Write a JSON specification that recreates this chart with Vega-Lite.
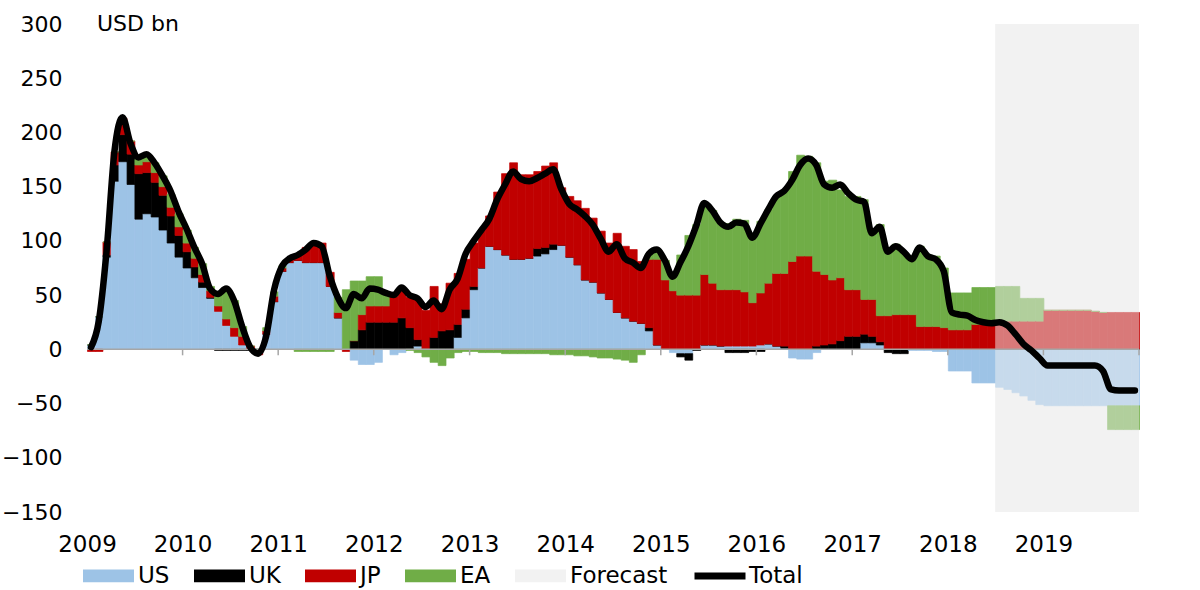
{
  "$schema": "https://vega.github.io/schema/vega-lite/v6.json",
  "width": 1052,
  "height": 488,
  "autosize": "none",
  "padding": {"left": 87, "top": 24, "right": 61, "bottom": 78},
  "background": "white",
  "config": {
    "view": {"stroke": null},
    "font": "DejaVu Sans",
    "axis": {"labelFont": "DejaVu Sans", "labelColor": "#000000", "labelFontSize": 22, "grid": false, "domain": false, "ticks": false, "title": null},
    "legend": {"labelFont": "DejaVu Sans", "labelColor": "#000000", "labelFontSize": 23}
  },
  "resolve": {"scale": {"stroke": "independent"}, "legend": {"stroke": "independent"}},
  "datasets": {
    "order": [{"s": "US", "o": 1}, {"s": "UK", "o": 2}, {"s": "JP", "o": 3}, {"s": "EA", "o": 4}],
    "one": [{"k": 1}],
    "yrs": [{"y": "2010-01"}, {"y": "2011-01"}, {"y": "2012-01"}, {"y": "2013-01"}, {"y": "2014-01"}, {"y": "2015-01"}, {"y": "2016-01"}, {"y": "2017-01"}, {"y": "2018-01"}, {"y": "2019-01"}, {"y": "2020-01"}],
    "m": [
    {"d":"2009-01","US":4,"UK":0,"JP":-2,"EA":0,"T":2},
    {"d":"2009-02","US":30,"UK":0,"JP":-2,"EA":0,"T":26},
    {"d":"2009-03","US":85,"UK":2,"JP":12,"EA":0,"T":90},
    {"d":"2009-04","US":155,"UK":15,"JP":12,"EA":0,"T":183},
    {"d":"2009-05","US":173,"UK":25,"JP":15,"EA":0,"T":214},
    {"d":"2009-06","US":152,"UK":28,"JP":12,"EA":0,"T":190},
    {"d":"2009-07","US":120,"UK":42,"JP":8,"EA":5,"T":177},
    {"d":"2009-08","US":125,"UK":38,"JP":10,"EA":7,"T":180},
    {"d":"2009-09","US":122,"UK":32,"JP":9,"EA":9,"T":172},
    {"d":"2009-10","US":110,"UK":32,"JP":8,"EA":10,"T":160},
    {"d":"2009-11","US":98,"UK":25,"JP":8,"EA":12,"T":146},
    {"d":"2009-12","US":85,"UK":20,"JP":8,"EA":12,"T":127},
    {"d":"2010-01","US":75,"UK":15,"JP":8,"EA":12,"T":111},
    {"d":"2010-02","US":66,"UK":10,"JP":8,"EA":10,"T":94},
    {"d":"2010-03","US":57,"UK":5,"JP":7,"EA":10,"T":79},
    {"d":"2010-04","US":47,"UK":1,"JP":6,"EA":4,"T":56},
    {"d":"2010-05","US":35,"UK":-1,"JP":5,"EA":12,"T":51},
    {"d":"2010-06","US":22,"UK":-1,"JP":6,"EA":28,"T":56},
    {"d":"2010-07","US":12,"UK":-1,"JP":8,"EA":25,"T":45},
    {"d":"2010-08","US":4,"UK":-1,"JP":8,"EA":9,"T":21},
    {"d":"2010-09","US":0,"UK":-1,"JP":3,"EA":0,"T":2},
    {"d":"2010-10","US":0,"UK":-1,"JP":-4,"EA":0,"T":-4},
    {"d":"2010-11","US":14,"UK":0,"JP":3,"EA":3,"T":12},
    {"d":"2010-12","US":44,"UK":0,"JP":5,"EA":4,"T":55},
    {"d":"2011-01","US":72,"UK":0,"JP":3,"EA":2,"T":77},
    {"d":"2011-02","US":80,"UK":0,"JP":3,"EA":1,"T":84},
    {"d":"2011-03","US":82,"UK":0,"JP":6,"EA":-2,"T":87},
    {"d":"2011-04","US":80,"UK":0,"JP":14,"EA":-2,"T":92},
    {"d":"2011-05","US":80,"UK":0,"JP":18,"EA":-2,"T":98},
    {"d":"2011-06","US":80,"UK":0,"JP":18,"EA":-2,"T":95},
    {"d":"2011-07","US":58,"UK":0,"JP":13,"EA":-2,"T":68},
    {"d":"2011-08","US":29,"UK":0,"JP":5,"EA":14,"T":48},
    {"d":"2011-09","US":0,"UK":0,"JP":-2,"EA":55,"T":38},
    {"d":"2011-10","US":-10,"UK":8,"JP":0,"EA":55,"T":51},
    {"d":"2011-11","US":-14,"UK":18,"JP":14,"EA":31,"T":47},
    {"d":"2011-12","US":-14,"UK":25,"JP":15,"EA":27,"T":56},
    {"d":"2012-01","US":-12,"UK":25,"JP":15,"EA":27,"T":55},
    {"d":"2012-02","US":0,"UK":25,"JP":15,"EA":13,"T":52},
    {"d":"2012-03","US":-5,"UK":25,"JP":24,"EA":3,"T":50},
    {"d":"2012-04","US":-3,"UK":29,"JP":26,"EA":0,"T":57},
    {"d":"2012-05","US":0,"UK":20,"JP":28,"EA":-1,"T":50},
    {"d":"2012-06","US":3,"UK":6,"JP":37,"EA":-3,"T":47},
    {"d":"2012-07","US":0,"UK":0,"JP":36,"EA":-7,"T":39},
    {"d":"2012-08","US":0,"UK":11,"JP":47,"EA":-12,"T":45},
    {"d":"2012-09","US":0,"UK":17,"JP":25,"EA":-15,"T":37},
    {"d":"2012-10","US":0,"UK":18,"JP":43,"EA":-8,"T":55},
    {"d":"2012-11","US":11,"UK":12,"JP":47,"EA":-3,"T":65},
    {"d":"2012-12","US":29,"UK":8,"JP":46,"EA":-2,"T":88},
    {"d":"2013-01","US":55,"UK":3,"JP":40,"EA":-2,"T":100},
    {"d":"2013-02","US":75,"UK":0,"JP":35,"EA":-3,"T":110},
    {"d":"2013-03","US":95,"UK":0,"JP":28,"EA":-3,"T":120},
    {"d":"2013-04","US":92,"UK":0,"JP":53,"EA":-3,"T":138},
    {"d":"2013-05","US":87,"UK":0,"JP":75,"EA":-4,"T":152},
    {"d":"2013-06","US":83,"UK":0,"JP":89,"EA":-4,"T":164},
    {"d":"2013-07","US":83,"UK":0,"JP":78,"EA":-4,"T":157},
    {"d":"2013-08","US":84,"UK":0,"JP":77,"EA":-4,"T":155},
    {"d":"2013-09","US":86,"UK":7,"JP":71,"EA":-4,"T":158},
    {"d":"2013-10","US":88,"UK":6,"JP":75,"EA":-4,"T":162},
    {"d":"2013-11","US":92,"UK":5,"JP":75,"EA":-5,"T":166},
    {"d":"2013-12","US":96,"UK":0,"JP":53,"EA":-5,"T":148},
    {"d":"2014-01","US":85,"UK":0,"JP":56,"EA":-5,"T":134},
    {"d":"2014-02","US":78,"UK":0,"JP":59,"EA":-6,"T":129},
    {"d":"2014-03","US":64,"UK":0,"JP":66,"EA":-6,"T":123},
    {"d":"2014-04","US":62,"UK":0,"JP":59,"EA":-7,"T":115},
    {"d":"2014-05","US":52,"UK":0,"JP":57,"EA":-8,"T":102},
    {"d":"2014-06","US":46,"UK":0,"JP":52,"EA":-8,"T":90},
    {"d":"2014-07","US":34,"UK":0,"JP":73,"EA":-9,"T":97},
    {"d":"2014-08","US":29,"UK":0,"JP":66,"EA":-10,"T":84},
    {"d":"2014-09","US":26,"UK":0,"JP":66,"EA":-12,"T":80},
    {"d":"2014-10","US":24,"UK":0,"JP":57,"EA":-5,"T":75},
    {"d":"2014-11","US":17,"UK":3,"JP":63,"EA":5,"T":88},
    {"d":"2014-12","US":4,"UK":0,"JP":79,"EA":9,"T":92},
    {"d":"2015-01","US":0,"UK":0,"JP":64,"EA":18,"T":82},
    {"d":"2015-02","US":-3,"UK":0,"JP":54,"EA":16,"T":67},
    {"d":"2015-03","US":-4,"UK":-3,"JP":50,"EA":37,"T":80},
    {"d":"2015-04","US":-4,"UK":-6,"JP":50,"EA":55,"T":95},
    {"d":"2015-05","US":0,"UK":-1,"JP":50,"EA":65,"T":114},
    {"d":"2015-06","US":4,"UK":0,"JP":65,"EA":66,"T":135},
    {"d":"2015-07","US":4,"UK":0,"JP":57,"EA":67,"T":128},
    {"d":"2015-08","US":3,"UK":0,"JP":52,"EA":62,"T":117},
    {"d":"2015-09","US":3,"UK":-3,"JP":52,"EA":61,"T":113},
    {"d":"2015-10","US":3,"UK":-3,"JP":52,"EA":65,"T":117},
    {"d":"2015-11","US":3,"UK":-3,"JP":50,"EA":66,"T":116},
    {"d":"2015-12","US":3,"UK":-2,"JP":40,"EA":62,"T":103},
    {"d":"2016-01","US":4,"UK":-2,"JP":48,"EA":66,"T":116},
    {"d":"2016-02","US":5,"UK":0,"JP":56,"EA":68,"T":129},
    {"d":"2016-03","US":3,"UK":0,"JP":67,"EA":71,"T":141},
    {"d":"2016-04","US":1,"UK":2,"JP":67,"EA":76,"T":146},
    {"d":"2016-05","US":-8,"UK":0,"JP":81,"EA":83,"T":156},
    {"d":"2016-06","US":-9,"UK":0,"JP":86,"EA":93,"T":170},
    {"d":"2016-07","US":-9,"UK":0,"JP":86,"EA":92,"T":176},
    {"d":"2016-08","US":-3,"UK":3,"JP":69,"EA":100,"T":170},
    {"d":"2016-09","US":0,"UK":4,"JP":65,"EA":86,"T":152},
    {"d":"2016-10","US":0,"UK":5,"JP":59,"EA":92,"T":149},
    {"d":"2016-11","US":0,"UK":8,"JP":58,"EA":81,"T":152},
    {"d":"2016-12","US":0,"UK":12,"JP":43,"EA":86,"T":144},
    {"d":"2017-01","US":0,"UK":12,"JP":43,"EA":86,"T":138},
    {"d":"2017-02","US":6,"UK":8,"JP":32,"EA":92,"T":136},
    {"d":"2017-03","US":6,"UK":6,"JP":34,"EA":63,"T":107},
    {"d":"2017-04","US":4,"UK":3,"JP":24,"EA":84,"T":113},
    {"d":"2017-05","US":0,"UK":-3,"JP":31,"EA":61,"T":90},
    {"d":"2017-06","US":0,"UK":-4,"JP":32,"EA":65,"T":95},
    {"d":"2017-07","US":0,"UK":-4,"JP":32,"EA":57,"T":90},
    {"d":"2017-08","US":-1,"UK":0,"JP":32,"EA":51,"T":83},
    {"d":"2017-09","US":-1,"UK":0,"JP":21,"EA":74,"T":94},
    {"d":"2017-10","US":-1,"UK":0,"JP":21,"EA":66,"T":86},
    {"d":"2017-11","US":-2,"UK":0,"JP":21,"EA":65,"T":83},
    {"d":"2017-12","US":-2,"UK":0,"JP":20,"EA":55,"T":72},
    {"d":"2018-01","US":-20,"UK":0,"JP":18,"EA":34,"T":34},
    {"d":"2018-02","US":-20,"UK":0,"JP":18,"EA":34,"T":32},
    {"d":"2018-03","US":-20,"UK":0,"JP":18,"EA":34,"T":31},
    {"d":"2018-04","US":-31,"UK":0,"JP":23,"EA":34,"T":27},
    {"d":"2018-05","US":-31,"UK":0,"JP":23,"EA":34,"T":25},
    {"d":"2018-06","US":-31,"UK":0,"JP":23,"EA":34,"T":24},
    {"d":"2018-07","US":-35,"UK":0,"JP":26,"EA":32,"T":25},
    {"d":"2018-08","US":-37,"UK":0,"JP":26,"EA":32,"T":22},
    {"d":"2018-09","US":-40,"UK":0,"JP":26,"EA":32,"T":14},
    {"d":"2018-10","US":-43,"UK":0,"JP":26,"EA":21,"T":5},
    {"d":"2018-11","US":-47,"UK":0,"JP":26,"EA":21,"T":-1},
    {"d":"2018-12","US":-51,"UK":0,"JP":26,"EA":21,"T":-8},
    {"d":"2019-01","US":-52,"UK":0,"JP":36,"EA":0,"T":-15},
    {"d":"2019-02","US":-52,"UK":0,"JP":36,"EA":0,"T":-15},
    {"d":"2019-03","US":-52,"UK":0,"JP":36,"EA":0,"T":-15},
    {"d":"2019-04","US":-52,"UK":0,"JP":36,"EA":0,"T":-15},
    {"d":"2019-05","US":-52,"UK":0,"JP":36,"EA":0,"T":-15},
    {"d":"2019-06","US":-52,"UK":0,"JP":36,"EA":0,"T":-15},
    {"d":"2019-07","US":-52,"UK":0,"JP":35,"EA":0,"T":-15},
    {"d":"2019-08","US":-52,"UK":0,"JP":34,"EA":0,"T":-20},
    {"d":"2019-09","US":-52,"UK":0,"JP":34,"EA":-22,"T":-37},
    {"d":"2019-10","US":-52,"UK":0,"JP":34,"EA":-22,"T":-38},
    {"d":"2019-11","US":-52,"UK":0,"JP":34,"EA":-22,"T":-38},
    {"d":"2019-12","US":-52,"UK":0,"JP":34,"EA":-22,"T":-38}
    ]
  },
  "layer": [
    {
      "data": {"name": "one"},
      "mark": {"type": "rect"},
      "encoding": {
        "x": {"datum": {"year": 2018, "month": 7, "date": 1, "utc": true}, "type": "temporal"},
        "x2": {"datum": {"year": 2020, "month": 1, "date": 1, "utc": true}},
        "y": {"datum": 300, "type": "quantitative"},
        "y2": {"datum": -150},
        "color": {"datum": "Forecast"}
      }
    },
    {
      "data": {"name": "m"},
      "transform": [
        {"fold": ["US", "UK", "JP", "EA"], "as": ["s", "v"]},
        {"lookup": "s", "from": {"data": {"name": "order"}, "key": "s", "fields": ["o"]}}
      ],
      "mark": {"type": "bar", "binSpacing": 0, "strokeWidth": 0.7},
      "encoding": {
        "x": {
          "field": "d", "timeUnit": "utcyearmonth", "type": "temporal",
          "scale": {"type": "utc", "domain": [{"year": 2009, "month": 1, "date": 1, "utc": true}, {"year": 2020, "month": 1, "date": 1, "utc": true}]},
          "axis": {
            "values": [
              {"year": 2009, "month": 1, "date": 1, "utc": true}, {"year": 2010, "month": 1, "date": 1, "utc": true},
              {"year": 2011, "month": 1, "date": 1, "utc": true}, {"year": 2012, "month": 1, "date": 1, "utc": true},
              {"year": 2013, "month": 1, "date": 1, "utc": true}, {"year": 2014, "month": 1, "date": 1, "utc": true},
              {"year": 2015, "month": 1, "date": 1, "utc": true}, {"year": 2016, "month": 1, "date": 1, "utc": true},
              {"year": 2017, "month": 1, "date": 1, "utc": true}, {"year": 2018, "month": 1, "date": 1, "utc": true},
              {"year": 2019, "month": 1, "date": 1, "utc": true}
            ],
            "format": "%Y", "labelPadding": 21, "labelFlush": false, "labelOverlap": false, "labelFontSize": 23
          }
        },
        "y": {
          "field": "v", "type": "quantitative", "stack": "zero",
          "scale": {"domain": [-150, 300], "nice": false},
          "axis": {"values": [-150, -100, -50, 0, 50, 100, 150, 200, 250, 300], "labelPadding": 25}
        },
        "color": {
          "field": "s", "type": "nominal",
          "scale": {"domain": ["US", "UK", "JP", "EA", "Forecast"], "range": ["#9dc3e6", "#000000", "#c00000", "#70ad47", "#f2f2f2"]},
          "legend": {
            "orient": "none", "legendX": -4, "legendY": 526, "direction": "horizontal", "title": null,
            "symbolType": "M-1,-0.25H1V0.25H-1Z", "symbolSize": 2601, "symbolOpacity": 1, "symbolStrokeWidth": 0,
            "labelOffset": 4, "columnPadding": 24
          }
        },
        "stroke": {
          "field": "s", "type": "nominal",
          "scale": {"domain": ["US", "UK", "JP", "EA"], "range": ["#9dc3e6", "#000000", "#c00000", "#70ad47"]},
          "legend": null
        },
        "order": {"field": "o", "type": "quantitative"}
      }
    },
    {
      "data": {"name": "one"},
      "mark": {"type": "rect", "color": "#f2f2f2", "opacity": 0.5},
      "encoding": {
        "x": {"datum": {"year": 2018, "month": 7, "date": 1, "utc": true}, "type": "temporal"},
        "x2": {"datum": {"year": 2020, "month": 1, "date": 1, "utc": true}},
        "y": {"datum": 300, "type": "quantitative"},
        "y2": {"datum": -150}
      }
    },
    {
      "data": {"name": "one"},
      "mark": {"type": "rule", "color": "#a6a6a6", "strokeWidth": 1.5},
      "encoding": {"y": {"datum": 0, "type": "quantitative"}}
    },
    {
      "data": {"name": "yrs"},
      "mark": {"type": "rule", "color": "#a6a6a6", "strokeWidth": 1.5},
      "encoding": {
        "x": {"field": "y", "type": "temporal", "timeUnit": "utcyearmonth"},
        "y": {"datum": 0, "type": "quantitative"},
        "y2": {"datum": -5.5}
      }
    },
    {
      "data": {"name": "m"},
      "mark": {"type": "line", "interpolate": "monotone", "strokeWidth": 6.5, "strokeCap": "round", "strokeJoin": "round"},
      "encoding": {
        "x": {"field": "d", "timeUnit": "utcyearmonth", "type": "temporal", "bandPosition": 0.5},
        "y": {"field": "T", "type": "quantitative", "scale": {"domain": [-150, 300], "nice": false}},
        "stroke": {
          "datum": "Total",
          "scale": {"range": ["#000000"]},
          "legend": {
            "orient": "none", "legendX": 604, "legendY": 523, "direction": "horizontal", "title": null,
            "symbolType": "stroke", "symbolSize": 2601, "symbolStrokeWidth": 7, "labelOffset": 0
          }
        }
      }
    },
    {
      "data": {"name": "one"},
      "mark": {"type": "text", "align": "left", "baseline": "middle", "fontSize": 22, "dx": 10, "font": "DejaVu Sans", "color": "#000000"},
      "encoding": {
        "x": {"datum": {"year": 2009, "month": 1, "date": 1, "utc": true}, "type": "temporal"},
        "y": {"datum": 300, "type": "quantitative"},
        "text": {"value": "USD bn"}
      }
    }
  ]
}
